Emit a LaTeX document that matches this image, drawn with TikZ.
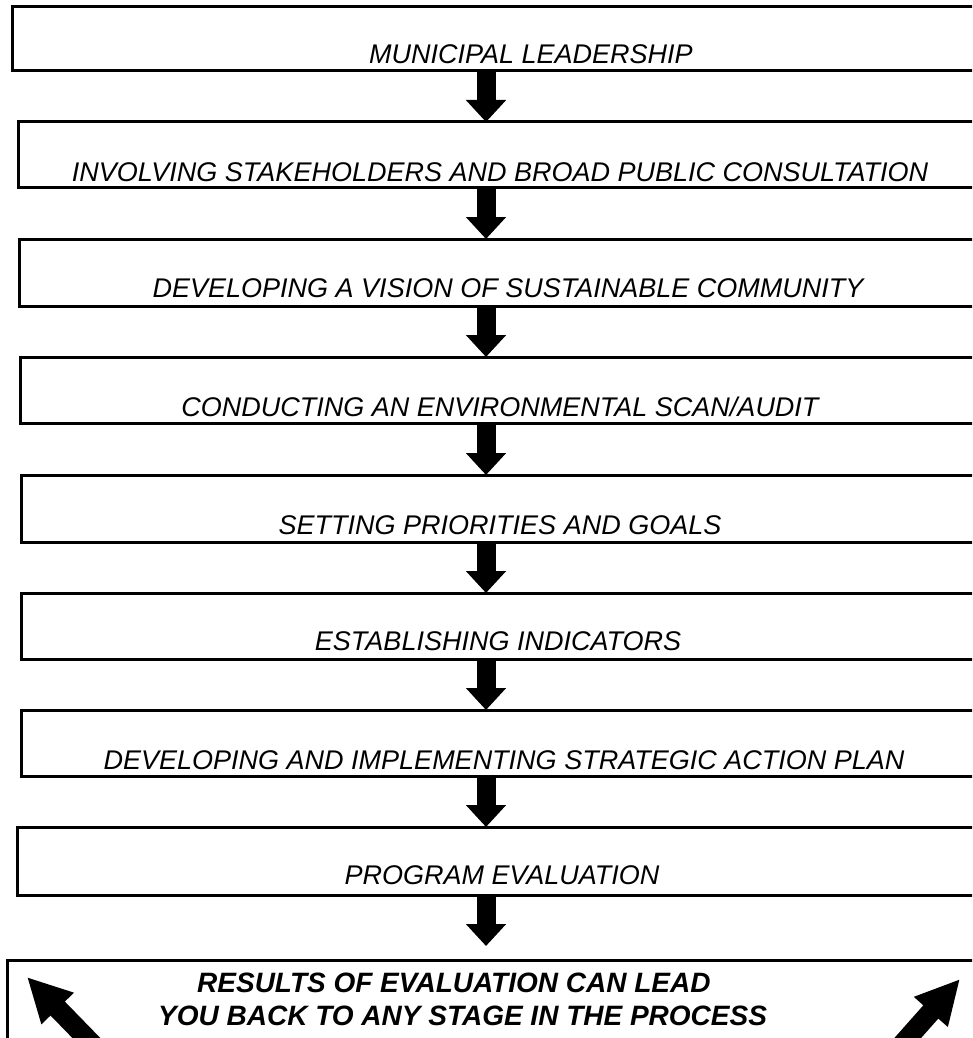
\documentclass[tikz,border=0pt]{standalone}
\usepackage{fontspec}
\setmainfont{Liberation Sans}
\usetikzlibrary{arrows.meta}
\tikzset{
  stagebox/.style={draw=black, line width=3pt, fill=white, rectangle, anchor=north west, outer sep=0pt, inner sep=0pt},
  stagetext/.style={anchor=base, inner sep=0pt, font=\fontsize{27}{32}\selectfont\itshape},
  resulttext/.style={anchor=base west, inner sep=0pt, font=\fontsize{28}{33}\selectfont\bfseries\itshape},
  flowarrow/.style={line width=19pt, -{Triangle[width=39pt,length=22pt]}},
  backarrow/.style={line width=20pt, -{Triangle[width=42pt,length=44pt]}}
}
\begin{document}
\begin{tikzpicture}[x=1pt,y=-1pt]
\useasboundingbox (0,0) rectangle (972,1038);
\clip (0,0) rectangle (972,1038);
\fill[white] (0,0) rectangle (972,1038);
% stage boxes
\node[stagebox, minimum width=990pt, minimum height=64pt] (b1) at (12,7) {};
\node[stagebox, minimum width=990pt, minimum height=65pt] (b2) at (18,122) {};
\node[stagebox, minimum width=990pt, minimum height=67pt] (b3) at (19,239) {};
\node[stagebox, minimum width=990pt, minimum height=66pt] (b4) at (20,357) {};
\node[stagebox, minimum width=990pt, minimum height=67pt] (b5) at (21,475) {};
\node[stagebox, minimum width=990pt, minimum height=66pt] (b6) at (21,593) {};
\node[stagebox, minimum width=990pt, minimum height=66pt] (b7) at (21,710) {};
\node[stagebox, minimum width=990pt, minimum height=68pt] (b8) at (17,827) {};
\node[stagebox, minimum width=1000pt, minimum height=120pt] (b9) at (7,960) {};
% stage texts
\node[stagetext] (t1) at (531,64) {MUNICIPAL LEADERSHIP};
\node[stagetext] (t2) at (500,181) {INVOLVING STAKEHOLDERS AND BROAD PUBLIC CONSULTATION};
\node[stagetext] (t3) at (508,297) {DEVELOPING A VISION OF SUSTAINABLE COMMUNITY};
\node[stagetext] (t4) at (500,416) {CONDUCTING AN ENVIRONMENTAL SCAN/AUDIT};
\node[stagetext] (t5) at (500,534) {SETTING PRIORITIES AND GOALS};
\node[stagetext] (t6) at (498,650) {ESTABLISHING INDICATORS};
\node[stagetext] (t7) at (504,769) {DEVELOPING AND IMPLEMENTING STRATEGIC ACTION PLAN};
\node[stagetext] (t8) at (502,884) {PROGRAM EVALUATION};
% result text
\node[resulttext] (r1) at (197,992) {RESULTS OF EVALUATION CAN LEAD};
\node[resulttext] (r2) at (158,1025) {YOU BACK TO ANY STAGE IN THE PROCESS};
% flow arrows
\coordinate (ax) at (486,0);
\draw[flowarrow] (b1.south -| ax) -- (b2.north -| ax);
\draw[flowarrow] (b2.south -| ax) -- (b3.north -| ax);
\draw[flowarrow] (b3.south -| ax) -- (b4.north -| ax);
\draw[flowarrow] (b4.south -| ax) -- (b5.north -| ax);
\draw[flowarrow] (b5.south -| ax) -- (b6.north -| ax);
\draw[flowarrow] (b6.south -| ax) -- (b7.north -| ax);
\draw[flowarrow] (b7.south -| ax) -- (b8.north -| ax);
\draw[flowarrow, shorten >=14pt] (b8.south -| ax) -- (b9.north -| ax);
% back arrows
\coordinate (lA) at (100,1052);
\coordinate (lT) at (27,977);
\coordinate (rA) at (890,1058);
\coordinate (rT) at (960,979);
\draw[backarrow] (lA) -- (lT);
\draw[backarrow] (rA) -- (rT);
\end{tikzpicture}
\end{document}
